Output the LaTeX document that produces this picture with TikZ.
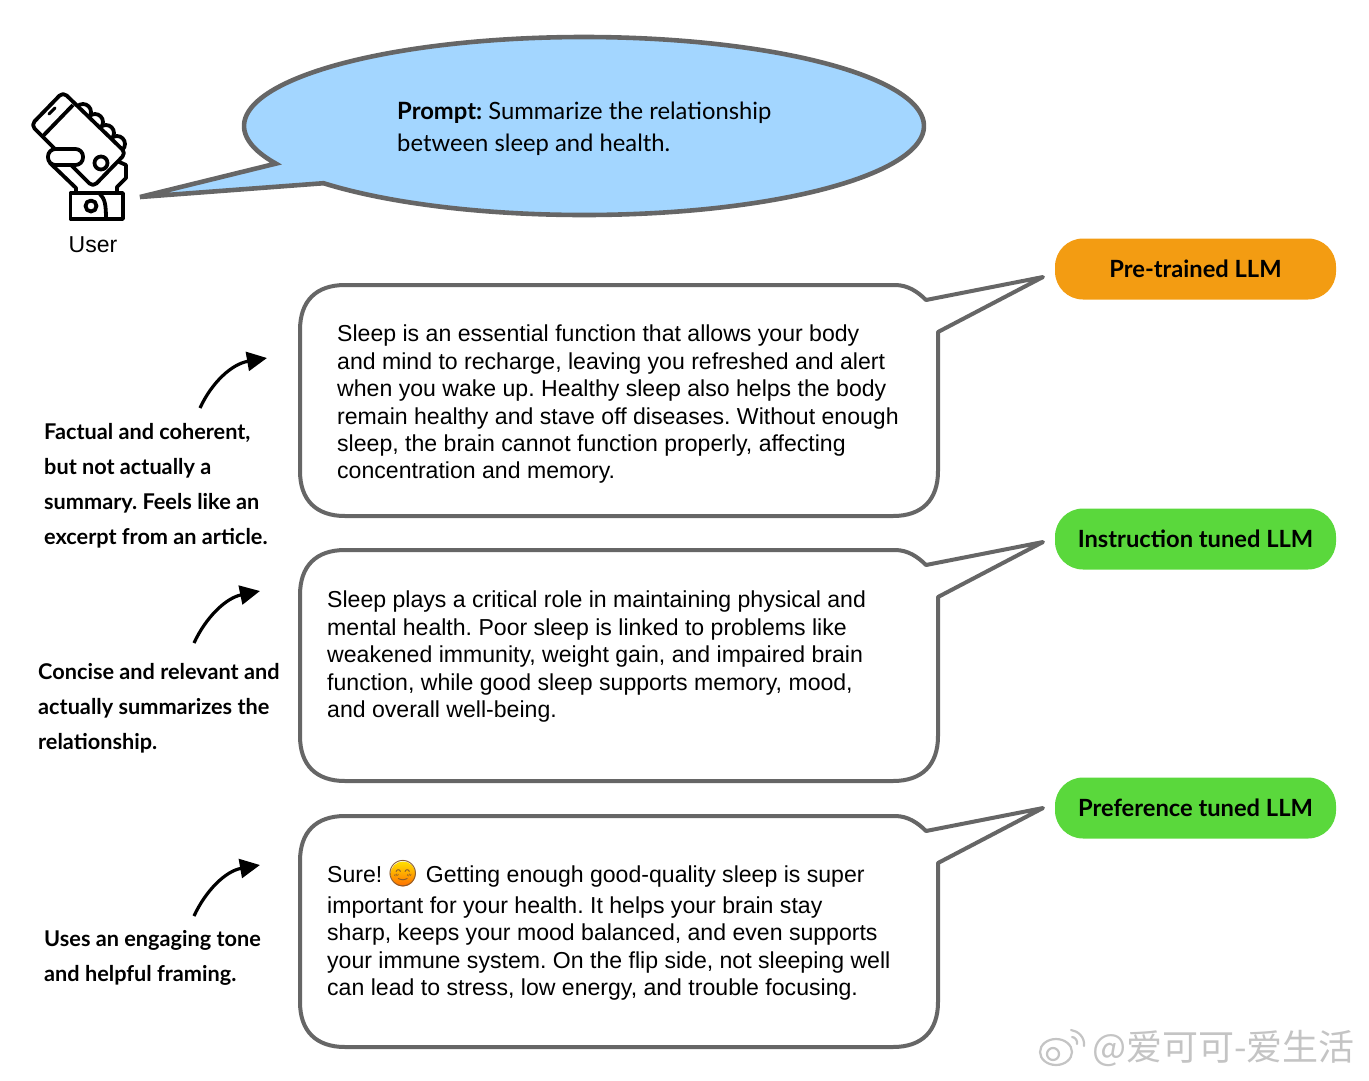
\documentclass[tikz,border=0pt]{standalone}
\usepackage{fontspec}
\setmainfont{Liberation Sans}
\newfontfamily\pillfont{Lato}
\newfontfamily\notefont{Lato}
\newfontfamily\cjkfont{Noto Sans CJK SC}
\newfontfamily\emojifont{Noto Emoji}
\usetikzlibrary{arrows.meta}
\definecolor{edgegray}{HTML}{666666}
\definecolor{promptblue}{HTML}{A3D6FF}
\definecolor{pillorange}{HTML}{F39C12}
\definecolor{pillgreen}{HTML}{5AD83C}
\definecolor{marksoft}{HTML}{C4C4C4}
\newcommand{\replybubble}[1]{%
  \draw[bubbleline] (345,#1) -- (895,#1) .. controls (908,#1) and (918,#1+7) .. (926,#1+15)
    -- (1043,#1-8) -- (938,#1+47) -- (938,#1+186) .. controls (938,#1+215) and (922,#1+231) .. (893,#1+231)
    -- (345,#1+231) .. controls (316,#1+231) and (300,#1+215) .. (300,#1+186)
    -- (300,#1+45) .. controls (300,#1+16) and (316,#1) .. (345,#1) -- cycle;}
\tikzset{
  x=1pt,y=-1pt,
  bubbleline/.style={draw=edgegray,line width=4pt,fill=white,line join=round},
  body/.style={anchor=north west,inner sep=0pt,align=left,font=\fontsize{23.08}{27.4}\selectfont},
  note/.style={anchor=north west,inner sep=0pt,align=left,font=\fontsize{21.7}{35}\selectfont\notefont\bfseries},
  pill/.style={rounded corners=28pt,minimum width=281pt,minimum height=61pt,inner sep=0pt,font=\fontsize{23.7}{27}\selectfont\pillfont\bfseries},
  remark/.style={-{Triangle[length=20pt,width=19pt]},line width=3.2pt,black},
  icon/.style={draw=black,line width=3.8pt,fill=white,line join=round},
}
\begin{document}
\frenchspacing
\begin{tikzpicture}
\useasboundingbox (0,0) rectangle (1369,1080);
% prompt balloon
\draw[draw=edgegray,line width=4.6pt,fill=promptblue,line join=miter]
  plot[domain=140:-205,samples=160,smooth] ({584+340*cos(\x)},{126+89*sin(\x)})
  -- (140,197) -- cycle;
\node[anchor=north west,inner sep=0pt,align=left,font=\fontsize{23.8}{32}\selectfont\pillfont] (prompt) at (397,102)
  {\textbf{Prompt:} Summarize the relationship\\between sleep and health.};
% user icon
\foreach \cx/\cy in {83/112,95/122,106/133,117/144}
  \draw[icon] (\cx,\cy) circle[radius=8pt];
\draw[icon] (126,165) -- (126,178) -- (117,187) -- (117,194) -- (76,194) -- (76,188) -- (50,163) -- (70,140) -- cycle;
\draw[icon,rounded corners=5pt] (63,92) -- (126,153) -- (93,187) -- (31,125) -- cycle;
\draw[draw=black,line width=3.8pt] (43,136) -- (73,105);
\draw[draw=black,line width=3pt,line cap=round] (49,114) -- (55,108);
\draw[icon] (101,163) circle[radius=6.5pt];
\draw[icon,rounded corners=7.5pt] (48,149) rectangle (83,165);
\draw[icon] (70.5,193) rectangle (123,219);
\draw[icon] (91,206) circle[radius=5.5pt];
\draw[draw=black,line width=3.8pt] (100,194) .. controls (105,199) and (106,205) .. (106,219);
\node[inner sep=0pt,font=\fontsize{23}{27}\selectfont] (user) at (93,245) {User};
% replies
\replybubble{285}
\replybubble{550}
\replybubble{816}
\node[body] (replyA) at (337,325) {Sleep is an essential function that allows your body\\and mind to recharge, leaving you refreshed and alert\\when you wake up. Healthy sleep also helps the body\\remain healthy and stave off diseases. Without enough\\sleep, the brain cannot function properly, affecting\\concentration and memory.};
\node[body] (replyB) at (327,591) {Sleep plays a critical role in maintaining physical and\\mental health. Poor sleep is linked to problems like\\weakened immunity, weight gain, and impaired brain\\function, while good sleep supports memory, mood,\\and overall well-being.};
\node[body] (replyC) at (327,866) {Sure!\hspace{43.5pt}Getting enough good-quality sleep is super\\[3pt]important for your health. It helps your brain stay\\sharp, keeps your mood balanced, and even supports\\your immune system. On the flip side, not sleeping well\\can lead to stress, low energy, and trouble focusing.};
\node[circle,top color=yellow!75!orange,bottom color=orange!85!red,minimum size=25pt,inner sep=0pt] (smilebase) at (403,874) {};
\node[inner sep=0pt,font=\fontsize{26}{27}\selectfont\emojifont,text=brown!70!black] (smile) at (403,874) {^^^^^^01f60a};
% pills
\node[pill,fill=pillorange] (pre) at (1195.5,269) {Pre-trained LLM};
\node[pill,fill=pillgreen] (ins) at (1195.5,539) {Instruction tuned LLM};
\node[pill,fill=pillgreen] (pref) at (1195.5,808) {Preference tuned LLM};
% remarks
\node[note] (noteA) at (44,423) {Factual and coherent,\\but not actually a\\summary. Feels like an\\excerpt from an article.};
\node[note] (noteB) at (38,663) {Concise and relevant and\\actually summarizes the\\relationship.};
\node[note] (noteC) at (44,930.5) {Uses an engaging tone\\and helpful framing.};
\coordinate (aimA) at (267,358);
\coordinate (aimB) at (260,591);
\coordinate (aimC) at (260,865);
\coordinate (fromA) at (200,408);
\coordinate (fromB) at (194,643);
\coordinate (fromC) at (194,916);
\draw[remark] (fromA) .. controls (212,382) and (232,364) .. (aimA);
\draw[remark] (fromB) .. controls (206,617) and (226,598) .. (aimB);
\draw[remark] (fromC) .. controls (206,890) and (226,871) .. (aimC);
% watermark
\draw[marksoft,line width=2.2pt,fill=white] (1056,1052) ellipse[x radius=16pt,y radius=13pt];
\draw[marksoft,line width=2.2pt] (1053,1054) circle[radius=6pt];
\draw[marksoft,line width=2.2pt,line cap=round] (1071,1030) .. controls (1078,1031) and (1085,1037) .. (1084,1046);
\draw[marksoft,line width=2.2pt,line cap=round] (1072,1037) .. controls (1075,1037) and (1078,1041) .. (1077,1044);
\node[inner sep=0pt,anchor=west,text=marksoft,font=\fontsize{36}{38}\selectfont\cjkfont] (mark) at (1092,1048) {@爱可可-爱生活};
\end{tikzpicture}
\end{document}
